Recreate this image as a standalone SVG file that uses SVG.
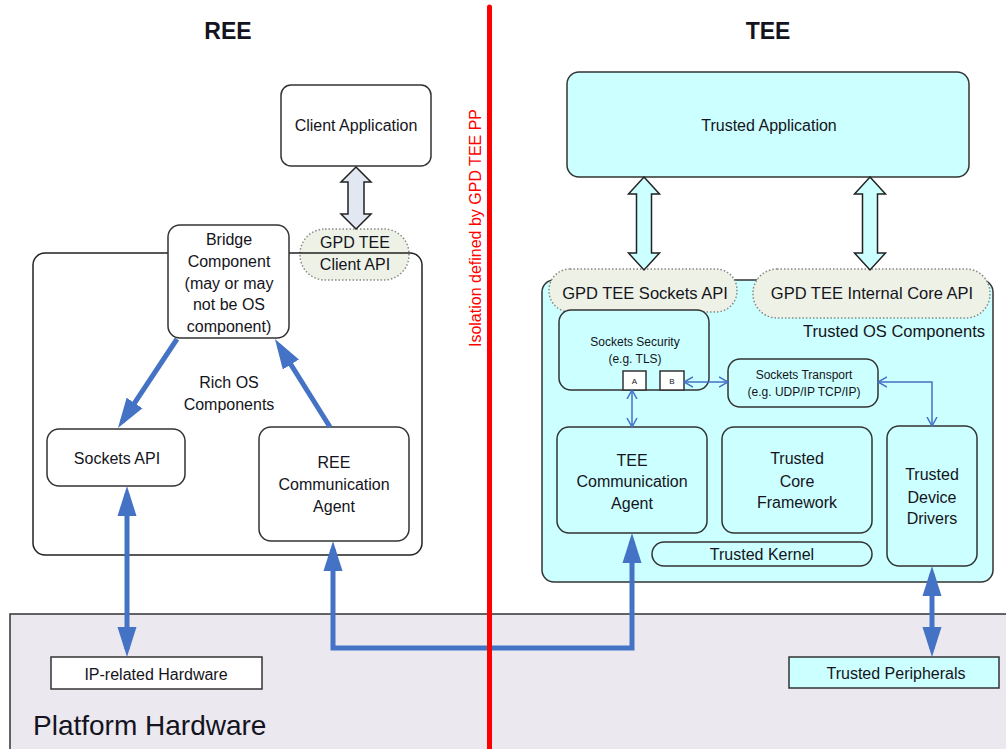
<svg xmlns="http://www.w3.org/2000/svg" width="1006" height="749" viewBox="0 0 1006 749">
  <style>
    text { font-family: "Liberation Sans", Arial, sans-serif; fill: #141420; }
    .title { font-size: 23px; font-weight: bold; text-anchor: middle; }
    .lbl { font-size: 16px; text-anchor: middle; }
    .sm { font-size: 12px; text-anchor: middle; }
    .tiny { font-size: 8px; text-anchor: middle; }
    .box { fill: #ffffff; stroke: #333333; stroke-width: 1.5; }
    .tbox { fill: #ccffff; stroke: #333333; stroke-width: 1.5; }
    .api { fill: #eef2e6; stroke: #888888; stroke-width: 1.5; stroke-dasharray: 1.5 2; }
    .hollow { stroke: #222222; stroke-width: 1.5; stroke-linejoin: miter; }
    .thick { fill: none; stroke: #4472c4; stroke-width: 5; }
    .thin { fill: none; stroke: #4472c4; stroke-width: 1.5; }
  </style>
  <defs>
    <marker id="headThick" viewBox="0 0 30 20" markerWidth="30" markerHeight="20" markerUnits="userSpaceOnUse" refX="22" refY="10" orient="auto-start-reverse">
      <path d="M0,0.5 L30,10 L0,19.5 z" fill="#4472c4"/>
    </marker>
    <marker id="headThin" viewBox="0 0 10 12" markerWidth="10" markerHeight="12" markerUnits="userSpaceOnUse" refX="9" refY="6" orient="auto-start-reverse">
      <path d="M0,1 L9,6 L0,11" fill="none" stroke="#4472c4" stroke-width="1.5"/>
    </marker>
  </defs>

  <rect width="1006" height="749" fill="#ffffff"/>

  <!-- platform hardware band -->
  <g id="platform-hardware">
    <rect x="10" y="614" width="1010" height="150" fill="#ebe8f0" stroke="#333333" stroke-width="1.5"/>
    <text x="33" y="735" style="font-size:28px">Platform Hardware</text>
  </g>

  <!-- titles -->
  <text class="title" x="228" y="39">REE</text>
  <text class="title" x="768" y="39">TEE</text>

  <!-- REE side -->
  <g id="gpd-tee-client-api">
    <rect class="api" x="300" y="229" width="109" height="51" rx="25"/>
    <text class="lbl" x="355" y="248">GPD TEE</text>
    <text class="lbl" x="355" y="269.5">Client API</text>
  </g>

  <g id="rich-os">
    <rect x="33" y="253" width="389" height="302" rx="12" fill="none" stroke="#222222" stroke-width="1.5"/>
    <text class="lbl" x="229" y="388">Rich OS</text>
    <text class="lbl" x="229" y="410">Components</text>
  </g>

  <g id="client-application">
    <rect class="box" x="281" y="85" width="150" height="81" rx="10"/>
    <text class="lbl" x="356" y="131">Client Application</text>
  </g>

  <g id="bridge-component">
    <rect class="box" x="168" y="225" width="121" height="113" rx="12"/>
    <text class="lbl" x="229" y="244.5">Bridge</text>
    <text class="lbl" x="229" y="267">Component</text>
    <text class="lbl" x="229" y="288.5">(may or may</text>
    <text class="lbl" x="229" y="310">not be OS</text>
    <text class="lbl" x="229" y="331.5">component)</text>
  </g>

  <g id="sockets-api">
    <rect class="box" x="47" y="429" width="138" height="57" rx="12"/>
    <text class="lbl" x="117" y="463.5">Sockets API</text>
  </g>

  <g id="ree-communication-agent">
    <rect class="box" x="259" y="427" width="150" height="114" rx="12"/>
    <text class="lbl" x="334" y="468">REE</text>
    <text class="lbl" x="334" y="489.5">Communication</text>
    <text class="lbl" x="334" y="511.5">Agent</text>
  </g>

  <g id="ip-related-hardware">
    <rect x="51" y="657" width="211" height="32" fill="#ffffff" stroke="#333333" stroke-width="1.5"/>
    <text class="lbl" x="156" y="679.5">IP-related Hardware</text>
  </g>

  <!-- TEE side -->
  <g id="trusted-application">
    <rect class="tbox" x="567" y="72" width="402" height="105" rx="12"/>
    <text class="lbl" x="769" y="130.5">Trusted Application</text>
  </g>

  <g id="trusted-os">
    <rect class="tbox" x="542" y="280" width="451" height="302" rx="12"/>
    <text x="985" y="336.5" style="font-size:16.5px;text-anchor:end">Trusted OS Components</text>
  </g>

  <g id="gpd-tee-sockets-api">
    <rect class="api" x="549" y="269" width="188" height="43" rx="21"/>
    <text class="lbl" x="645" y="299" style="font-size:16.5px">GPD TEE Sockets API</text>
  </g>

  <g id="gpd-tee-internal-core-api">
    <rect class="api" x="753" y="269" width="237" height="49" rx="24"/>
    <text class="lbl" x="872" y="299" style="font-size:16.5px">GPD TEE Internal Core API</text>
  </g>

  <g id="sockets-security">
    <rect class="tbox" x="559" y="310" width="150" height="80" rx="12"/>
    <text class="sm" x="635" y="346">Sockets Security</text>
    <text class="sm" x="635" y="363">(e.g. TLS)</text>
    <rect class="box" x="623" y="371" width="23" height="19" stroke-width="1.2"/>
    <text class="tiny" x="634.5" y="384">A</text>
    <rect class="box" x="660" y="371" width="24" height="19" stroke-width="1.2"/>
    <text class="tiny" x="672" y="384">B</text>
  </g>

  <g id="sockets-transport">
    <rect class="tbox" x="728" y="359" width="150" height="48" rx="12"/>
    <text class="sm" x="804" y="378.5">Sockets Transport</text>
    <text class="sm" x="804" y="395.5">(e.g. UDP/IP TCP/IP)</text>
  </g>

  <g id="tee-communication-agent">
    <rect class="tbox" x="557" y="427" width="150" height="106" rx="12"/>
    <text class="lbl" x="632" y="466">TEE</text>
    <text class="lbl" x="632" y="487">Communication</text>
    <text class="lbl" x="632" y="508.5">Agent</text>
  </g>

  <g id="trusted-core-framework">
    <rect class="tbox" x="722" y="427" width="150" height="106" rx="12"/>
    <text class="lbl" x="797" y="463.5">Trusted</text>
    <text class="lbl" x="797" y="486.5">Core</text>
    <text class="lbl" x="797" y="507.5">Framework</text>
  </g>

  <g id="trusted-device-drivers">
    <rect class="tbox" x="887" y="426" width="90" height="140" rx="12"/>
    <text class="lbl" x="932" y="479.5">Trusted</text>
    <text class="lbl" x="932" y="502.5">Device</text>
    <text class="lbl" x="932" y="523.5">Drivers</text>
  </g>

  <g id="trusted-kernel">
    <rect class="tbox" x="652" y="542" width="220" height="24" rx="12"/>
    <text class="lbl" x="762" y="559.5">Trusted Kernel</text>
  </g>

  <g id="trusted-peripherals">
    <rect x="789" y="657" width="210" height="31" fill="#ccffff" stroke="#333333" stroke-width="1.5"/>
    <text class="lbl" x="896" y="679">Trusted Peripherals</text>
  </g>

  <!-- connectors -->
  <g id="connectors">
    <!-- API double arrows -->
    <polygon class="hollow" fill="#e2e8f2" points="356,167 371,182 364,182 364,214 371,214 356,229 341,214 348,214 348,182 341,182"/>
    <polygon class="hollow" fill="#ccffff" points="644,177 659.5,194 651.5,194 651.5,253 659.5,253 644,270 628.5,253 636.5,253 636.5,194 628.5,194"/>
    <polygon class="hollow" fill="#ccffff" points="870,177 885.5,194 877.5,194 877.5,253 885.5,253 870,270 854.5,253 862.5,253 862.5,194 854.5,194"/>

    <!-- thick data paths -->
    <line class="thick" x1="177" y1="339" x2="122.4" y2="421.3" marker-end="url(#headThick)"/>
    <line class="thick" x1="330" y1="427" x2="279.2" y2="345.8" marker-end="url(#headThick)"/>
    <line class="thick" x1="127" y1="494" x2="127" y2="649" marker-start="url(#headThick)" marker-end="url(#headThick)"/>
    <path class="thick" d="M333,549 V648 H632 V541" marker-start="url(#headThick)" marker-end="url(#headThick)"/>
    <line class="thick" x1="932" y1="574" x2="932" y2="649" marker-start="url(#headThick)" marker-end="url(#headThick)"/>

    <!-- thin internal links -->
    <line class="thin" x1="684" y1="382" x2="728" y2="382" marker-start="url(#headThin)" marker-end="url(#headThin)"/>
    <line class="thin" x1="632" y1="390" x2="632" y2="427" marker-start="url(#headThin)" marker-end="url(#headThin)"/>
    <path class="thin" d="M878,382 H932 V426" marker-start="url(#headThin)" marker-end="url(#headThin)"/>
  </g>

  <!-- isolation boundary -->
  <g id="isolation">
    <line x1="489.5" y1="7" x2="489.5" y2="749" stroke="#ff0000" stroke-width="5" stroke-linecap="round"/>
    <text transform="translate(481,228) rotate(-90)" style="font-size:16px;text-anchor:middle;fill:#ff0000">Isolation defined by GPD TEE PP</text>
  </g>
</svg>
